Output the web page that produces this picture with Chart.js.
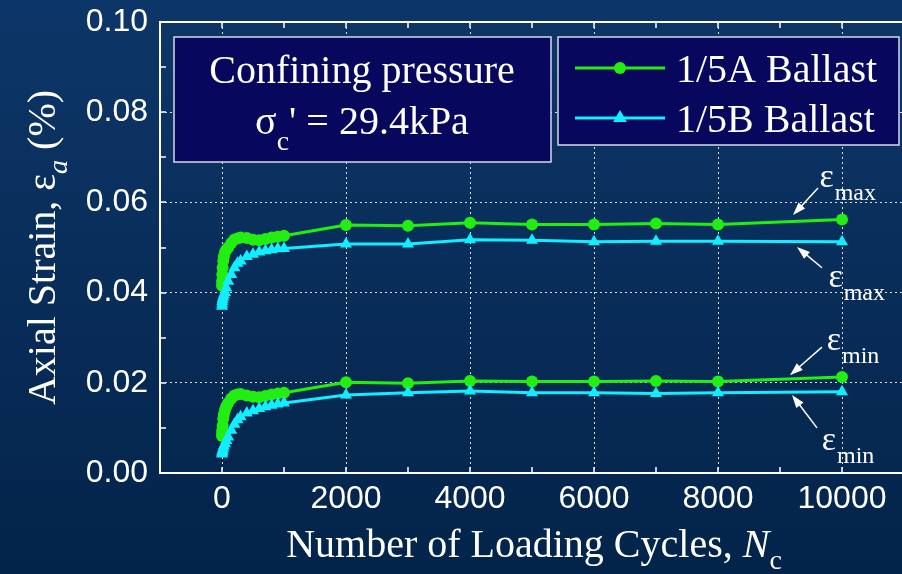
<!DOCTYPE html>
<html>
<head>
<meta charset="utf-8">
<script src="https://cdn.jsdelivr.net/npm/chart.js@4.4.1/dist/chart.umd.min.js"></script>
<style>
html, body { margin: 0; padding: 0; overflow: hidden; }
body { width: 902px; height: 574px; background: linear-gradient(#0d3668, #03244a); }
canvas { display: block; }
</style>
</head>
<body>
<canvas id="chart" width="906" height="574"></canvas>
<script>
// Loading cycles (same for all four curves)
const cycles = [1, 2, 5, 10, 20, 30, 50, 70, 100, 150, 200, 250, 300, 400, 500, 600, 700, 800, 900, 1000,
                2000, 3000, 4000, 5000, 6000, 7000, 8000, 10000];

// axial strain (%) - 1/5A ballast
const aMax = [0.0415, 0.0425, 0.0440, 0.0455, 0.0470, 0.0480, 0.0490, 0.0495, 0.0500, 0.0510, 0.0518, 0.0520, 0.0522, 0.0521,
              0.0517, 0.0516, 0.0519, 0.0522, 0.0524, 0.0526, 0.0550, 0.0548, 0.0555, 0.0551, 0.0551, 0.0553, 0.0551, 0.0562];
const aMin = [0.0082, 0.0088, 0.0095, 0.0105, 0.0120, 0.0130, 0.0140, 0.0148, 0.0155, 0.0165, 0.0172, 0.0174, 0.0175, 0.0172,
              0.0169, 0.0168, 0.0171, 0.0174, 0.0176, 0.0178, 0.0201, 0.0199, 0.0204, 0.0203, 0.0203, 0.0204, 0.0203, 0.0213];

// axial strain (%) - 1/5B ballast
const bMax = [0.0370, 0.0375, 0.0380, 0.0385, 0.0390, 0.0395, 0.0400, 0.0410, 0.0425, 0.0440, 0.0455, 0.0465, 0.0470, 0.0480,
              0.0485, 0.0490, 0.0493, 0.0495, 0.0497, 0.0498, 0.0508, 0.0508, 0.0517, 0.0516, 0.0513, 0.0514, 0.0514, 0.0513];
const bMin = [0.0042, 0.0045, 0.0048, 0.0050, 0.0055, 0.0060, 0.0065, 0.0072, 0.0080, 0.0095, 0.0108, 0.0118, 0.0125, 0.0133,
              0.0138, 0.0143, 0.0147, 0.0150, 0.0153, 0.0155, 0.0173, 0.0178, 0.0182, 0.0178, 0.0178, 0.0176, 0.0178, 0.0180];

const xTicks = [0, 2000, 4000, 6000, 8000, 10000];
const yTicks = [0, 0.02, 0.04, 0.06, 0.08, 0.10];
const seriesNames = ['1/5A Ballast', '1/5B Ballast'];

const GREEN = '#22ee11';
const CYAN = '#11eeff';
const SERIF = '"Liberation Serif", "Times New Roman", serif';

// epsilon call-outs: arrow tail/head and label, in data units
const callouts = [
    { from: [9613, 0.0632], to: [9210, 0.0572], at: [9753, 0.0654], sub: 'max' },
    { from: [9677, 0.0455], to: [9274, 0.0501], at: [9898, 0.0432], sub: 'max' },
    { from: [9677, 0.0279], to: [9161, 0.0217], at: [9871, 0.0293], sub: 'min' },
    { from: [9597, 0.0100], to: [9194, 0.0173], at: [9790, 0.0071], sub: 'min' }
];

const toPoints = ys => cycles.map((c, i) => ({ x: c, y: ys[i] }));

function series(data, color, style) {
    return {
        data: toPoints(data),
        borderColor: color,
        backgroundColor: color,
        borderWidth: 3,
        pointStyle: style,
        pointRadius: style === 'triangle' ? 7 : 6,
        pointBorderWidth: 0,
        tension: 0
    };
}

// draws text made of several pieces (normal / italic / subscript)
function drawParts(ctx, parts, x, y, align) {
    let total = 0;
    parts.forEach(p => { ctx.font = p.font; p.w = ctx.measureText(p.t).width; total += p.w; });
    let cx = align === 'center' ? x - total / 2 : x;
    ctx.textAlign = 'left';
    ctx.textBaseline = 'alphabetic';
    parts.forEach(p => {
        ctx.font = p.font;
        ctx.fillText(p.t, cx, y + (p.dy || 0));
        cx += p.w;
    });
}

function arrow(ctx, x1, y1, x2, y2) {
    const ang = Math.atan2(y2 - y1, x2 - x1);
    const len = 13, half = 4.5;
    ctx.beginPath();
    ctx.moveTo(x1, y1);
    ctx.lineTo(x2 - Math.cos(ang) * len * 0.8, y2 - Math.sin(ang) * len * 0.8);
    ctx.stroke();
    ctx.beginPath();
    ctx.moveTo(x2, y2);
    ctx.lineTo(x2 - Math.cos(ang) * len + Math.sin(ang) * half, y2 - Math.sin(ang) * len - Math.cos(ang) * half);
    ctx.lineTo(x2 - Math.cos(ang) * len - Math.sin(ang) * half, y2 - Math.sin(ang) * len + Math.cos(ang) * half);
    ctx.closePath();
    ctx.fill();
}

const decor = {
    id: 'decor',
    afterDatasetsDraw(chart) {
        const ctx = chart.ctx;
        const a = chart.chartArea;
        const xs = chart.scales.x, ys = chart.scales.y;
        ctx.save();

        // frame
        ctx.strokeStyle = '#ffffff';
        ctx.lineWidth = 2;
        ctx.beginPath();
        ctx.moveTo(a.right, a.top);
        ctx.lineTo(a.left, a.top);
        ctx.lineTo(a.left, a.bottom);
        ctx.lineTo(a.right, a.bottom);
        ctx.stroke();

        // inner tick marks
        ctx.lineWidth = 1.5;
        ctx.beginPath();
        for (let v = 0; v <= 0.1001; v += 0.01) {
            const py = Math.round(ys.getPixelForValue(v));
            ctx.moveTo(a.left, py);
            ctx.lineTo(a.left + 6, py);
        }
        for (let v = -1000; v <= 11000; v += 1000) {
            const px = Math.round(xs.getPixelForValue(v));
            ctx.moveTo(px, a.bottom);
            ctx.lineTo(px, a.bottom - 6);
            ctx.moveTo(px, a.top);
            ctx.lineTo(px, a.top + 6);
        }
        ctx.stroke();

        // confining pressure box
        ctx.fillStyle = '#07075e';
        ctx.strokeStyle = '#d8d8e8';
        ctx.lineWidth = 1.5;
        ctx.fillRect(174, 37, 377, 125);
        ctx.strokeRect(174, 37, 377, 125);
        ctx.fillStyle = '#ffffff';
        drawParts(ctx, [{ t: 'Confining pressure', font: '40px ' + SERIF }], 362, 83, 'center');
        drawParts(ctx, [
            { t: '\u03c3', font: '40px ' + SERIF },
            { t: 'c', font: '28px ' + SERIF, dy: 16 },
            { t: "' = 29.4kPa", font: '40px ' + SERIF }
        ], 362, 134, 'center');

        // legend box
        ctx.fillStyle = '#07075e';
        ctx.fillRect(558, 37, 341, 108);
        ctx.strokeRect(558, 37, 341, 108);
        const colors = [GREEN, CYAN];
        const styles = ['circle', 'triangle'];
        seriesNames.forEach((name, i) => {
            const yy = 68 + i * 50;
            ctx.strokeStyle = colors[i];
            ctx.lineWidth = 3;
            ctx.beginPath();
            ctx.moveTo(575, yy);
            ctx.lineTo(665, yy);
            ctx.stroke();
            ctx.fillStyle = colors[i];
            Chart.helpers.drawPoint(ctx, { pointStyle: styles[i], radius: styles[i] === 'triangle' ? 8 : 6, borderWidth: 0 }, 620, yy);
            ctx.fillStyle = '#ffffff';
            drawParts(ctx, [{ t: name, font: '40px ' + SERIF }], 676, yy + 14, 'left');
        });

        // epsilon call-outs
        ctx.strokeStyle = '#ffffff';
        ctx.fillStyle = '#ffffff';
        ctx.lineWidth = 1.5;
        callouts.forEach(c => {
            arrow(ctx, xs.getPixelForValue(c.from[0]), ys.getPixelForValue(c.from[1]),
                       xs.getPixelForValue(c.to[0]), ys.getPixelForValue(c.to[1]));
            const px = xs.getPixelForValue(c.at[0]), py = ys.getPixelForValue(c.at[1]);
            ctx.font = '34px ' + SERIF;
            ctx.textAlign = 'center';
            ctx.textBaseline = 'middle';
            ctx.fillText('\u03b5', px, py);
            ctx.font = '24px ' + SERIF;
            ctx.textAlign = 'left';
            ctx.fillText(c.sub, px + 8, py + 16);
        });

        // axis titles
        drawParts(ctx, [
            { t: 'Number of Loading Cycles, ', font: '40px ' + SERIF },
            { t: 'N', font: 'italic 40px ' + SERIF },
            { t: 'c', font: '28px ' + SERIF, dy: 12 }
        ], 534, 557, 'center');

        ctx.translate(55, (a.top + a.bottom) / 2);
        ctx.rotate(-Math.PI / 2);
        drawParts(ctx, [
            { t: 'Axial Strain, \u03b5', font: '40px ' + SERIF },
            { t: 'a', font: 'italic 28px ' + SERIF, dy: 12 },
            { t: ' (%)', font: '40px ' + SERIF }
        ], 0, 0, 'center');

        ctx.restore();
    }
};

new Chart(document.getElementById('chart'), {
    type: 'line',
    data: {
        datasets: [
            series(bMax, CYAN, 'triangle'),
            series(bMin, CYAN, 'triangle'),
            series(aMax, GREEN, 'circle'),
            series(aMin, GREEN, 'circle')
        ]
    },
    options: {
        responsive: false,
        animation: false,
        layout: { autoPadding: false, padding: { top: 22, right: 2, left: 0, bottom: 0 } },
        plugins: { legend: { display: false }, tooltip: { enabled: false } },
        scales: {
            x: {
                type: 'linear',
                min: -1000,
                max: 11000,
                afterFit: s => { s.height = 101; s.paddingLeft = 0; s.paddingRight = 0; },
                afterBuildTicks: s => { s.ticks = xTicks.map(v => ({ value: v })); },
                grid: { color: 'rgba(255,255,255,0.85)', lineWidth: 1, drawTicks: false },
                border: { display: false, dash: [2, 3] },
                ticks: {
                    color: '#ffffff',
                    padding: 7,
                    maxRotation: 0,
                    font: { family: '"Liberation Sans", Arial, sans-serif', size: 32 },
                    callback: v => String(v)
                }
            },
            y: {
                min: 0,
                max: 0.1,
                afterFit: s => { s.width = 160; s.paddingTop = 0; s.paddingBottom = 0; },
                afterBuildTicks: s => { s.ticks = yTicks.map(v => ({ value: v })); },
                grid: { color: 'rgba(255,255,255,0.85)', lineWidth: 1, drawTicks: false },
                border: { display: false, dash: [2, 3] },
                ticks: {
                    color: '#ffffff',
                    padding: 12,
                    font: { family: '"Liberation Sans", Arial, sans-serif', size: 32 },
                    callback: v => v.toFixed(2)
                }
            }
        }
    },
    plugins: [decor]
});
</script>
</body>
</html>
